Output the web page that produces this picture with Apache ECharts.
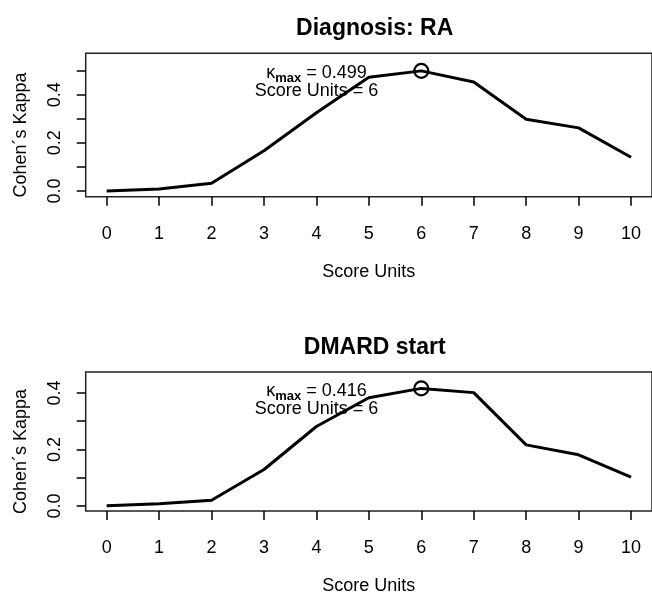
<!DOCTYPE html>
<html>
<head>
<meta charset="utf-8">
<script src="https://cdn.jsdelivr.net/npm/echarts@6/dist/echarts.min.js"></script>
<style>
  html, body { margin: 0; padding: 0; background: #fff; }
  #main { width: 652px; height: 596px; }
</style>
</head>
<body>
<div id="main"></div>
<script>
var scoreUnits = [0, 1, 2, 3, 4, 5, 6, 7, 8, 9, 10];
var kappaRA = [0.000, 0.008, 0.032, 0.167, 0.325, 0.472, 0.499, 0.453, 0.298, 0.262, 0.140];
var kappaDMARD = [0.001, 0.008, 0.020, 0.129, 0.281, 0.383, 0.416, 0.401, 0.216, 0.181, 0.102];
var xTicks = [0, 1, 2, 3, 4, 5, 6, 7, 8, 9, 10];
var yTicksRA = [0, 0.1, 0.2, 0.3, 0.4, 0.5];
var yTicksDMARD = [0, 0.1, 0.2, 0.3, 0.4];
var yLabels = [0, 0.2, 0.4];
var titles = ['Diagnosis: RA', 'DMARD start'];

var FONT = 'Liberation Sans, Arial, sans-serif';
var chart = echarts.init(document.getElementById('main'));

// one panel = grid + axes + line + circle at max + text
var panels = [
    {top: 53.3, height: 143.4, ymin: -0.024, ymax: 0.572, ticks: yTicksRA, data: kappaRA},
    {top: 372, height: 142, ymin: -0.018, ymax: 0.474, ticks: yTicksDMARD, data: kappaDMARD}
];

var option = {
    backgroundColor: '#fff',
    animation: false,
    title: [],
    grid: [],
    xAxis: [],
    yAxis: [],
    series: []
};

panels.forEach(function (p, i) {
    var kmax = Math.max.apply(null, p.data);
    var best = scoreUnits[p.data.indexOf(kmax)];
    option.title.push({
        text: titles[i],
        left: 369.7,
        textAlign: 'center',
        top: p.top - 41,
        textStyle: {fontFamily: FONT, fontSize: 23, fontWeight: 'bold', color: '#000'}
    });
    option.grid.push({
        left: 85.7, right: -2, top: p.top, height: p.height,
        show: true, borderColor: '#222', borderWidth: 1.5
    });
    option.xAxis.push({
        type: 'value', gridIndex: i, min: -0.4, max: 10.4,
        name: 'Score Units', nameLocation: 'middle', nameGap: 66,
        nameTextStyle: {fontFamily: FONT, fontSize: 18, color: '#000'},
        axisLine: {show: false, onZero: false},
        axisTick: {show: true, length: 9, customValues: xTicks, lineStyle: {color: '#000', width: 1.5}},
        axisLabel: {customValues: xTicks, margin: 28, fontFamily: FONT, fontSize: 18, color: '#000'},
        splitLine: {show: false}
    });
    option.yAxis.push({
        type: 'value', gridIndex: i, min: p.ymin, max: p.ymax,
        name: 'Cohen\u00B4s Kappa', nameLocation: 'middle', nameGap: 56,
        nameTextStyle: {fontFamily: FONT, fontSize: 18, color: '#000', padding: [0, 20, 0, 0]},
        axisLine: {show: false, onZero: false},
        axisTick: {show: true, length: 9, customValues: p.ticks, lineStyle: {color: '#000', width: 1.5}},
        axisLabel: {
            customValues: yLabels, rotate: 90, margin: 22,
            fontFamily: FONT, fontSize: 18, color: '#000',
            formatter: function (v) { return v.toFixed(1); }
        },
        splitLine: {show: false}
    });
    option.series.push({
        type: 'line', xAxisIndex: i, yAxisIndex: i,
        data: scoreUnits.map(function (x, k) { return [x, p.data[k]]; }),
        symbol: 'none',
        lineStyle: {color: '#000', width: 3}
    });
    option.series.push({
        type: 'scatter', xAxisIndex: i, yAxisIndex: i,
        data: [[best, kmax]],
        symbol: 'circle', symbolSize: 14,
        itemStyle: {color: 'none', borderColor: '#000', borderWidth: 2.2, opacity: 1}
    });
    // kappa max text, subscript pushed down via line heights
    option.series.push({
        type: 'scatter', xAxisIndex: i, yAxisIndex: i,
        data: [[best - 2, kmax * 0.905]],
        symbolSize: 0,
        silent: true,
        itemStyle: {opacity: 1},
        label: {
            show: true, position: 'inside', align: 'center', opacity: 1,
            formatter: '{k|\u03BA}{s|max}{k| = ' + kmax.toFixed(3) + '}\n{k2|Score Units = ' + best + '}',
            rich: {
                k: {fontFamily: FONT, fontSize: 18, color: '#000', lineHeight: 18, verticalAlign: 'top'},
                s: {fontFamily: FONT, fontSize: 13, fontWeight: 'bold', color: '#000', lineHeight: 21, verticalAlign: 'bottom'},
                k2: {fontFamily: FONT, fontSize: 18, color: '#000', lineHeight: 15, verticalAlign: 'bottom'}
            }
        }
    });
});

chart.setOption(option);
</script>
</body>
</html>
